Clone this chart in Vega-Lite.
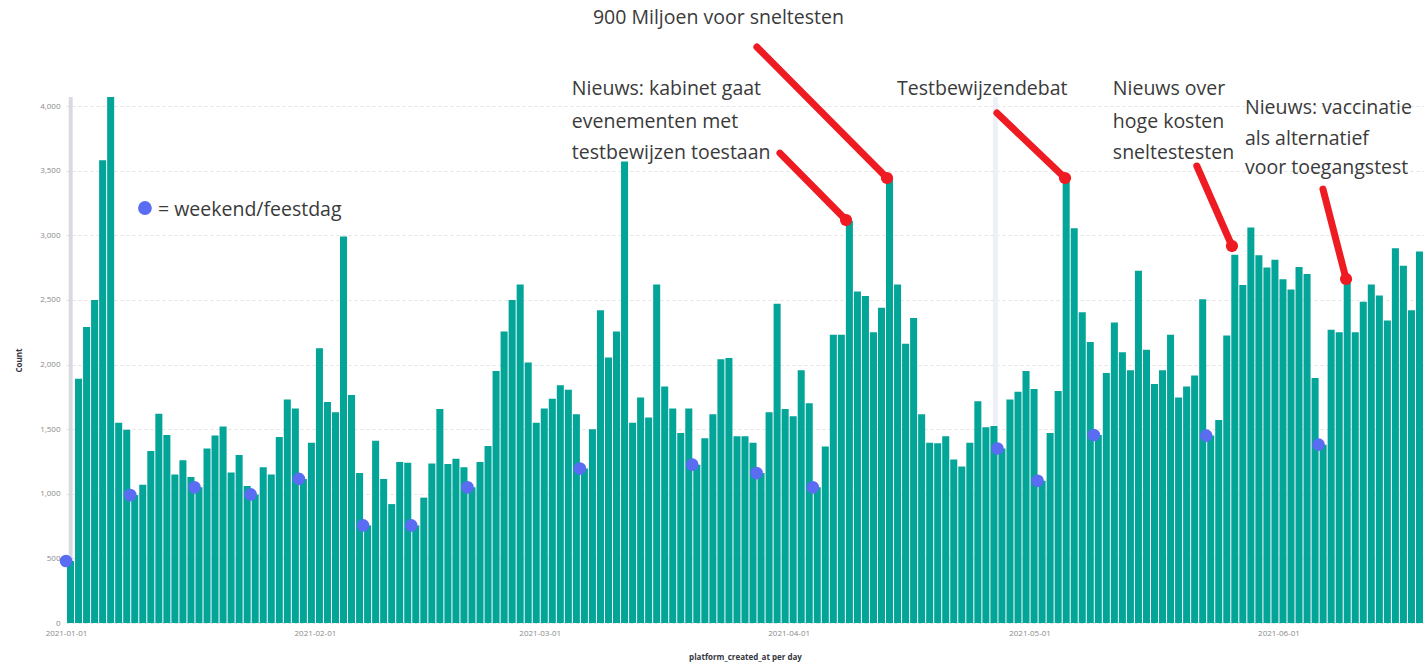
{
  "$schema": "https://vega.github.io/schema/vega-lite/v6.json",
  "width": 1358,
  "height": 526,
  "autosize": {"type": "none"},
  "padding": {"left": 66, "top": 97, "right": 0, "bottom": 44},
  "background": "white",
  "config": {
    "font": "Open Sans",
    "view": {"stroke": null},
    "axisX": {"labelFontSize": 8, "labelColor": "#8a8a8a", "domain": false, "ticks": false, "grid": false, "labelPadding": 6, "labelFlush": false, "titleFontSize": 8, "titleFontWeight": "bold", "titleColor": "#343741", "titlePadding": 16},
    "axisY": {"labelFontSize": 8, "labelColor": "#8a8a8a", "domain": false, "ticks": false, "labelPadding": 6, "gridColor": "#e3e3e3", "gridDash": [3, 3], "titleFontSize": 8, "titleFontWeight": "bold", "titleColor": "#343741", "titlePadding": 16}
  },
  "datasets": {
    "daily": [
      {"date": "2021-01-01", "count": 480, "weekend": true},
      {"date": "2021-01-02", "count": 1890},
      {"date": "2021-01-03", "count": 2290},
      {"date": "2021-01-04", "count": 2500},
      {"date": "2021-01-05", "count": 3580},
      {"date": "2021-01-06", "count": 4090},
      {"date": "2021-01-07", "count": 1550},
      {"date": "2021-01-08", "count": 1495},
      {"date": "2021-01-09", "count": 990, "weekend": true},
      {"date": "2021-01-10", "count": 1070},
      {"date": "2021-01-11", "count": 1330},
      {"date": "2021-01-12", "count": 1620},
      {"date": "2021-01-13", "count": 1455},
      {"date": "2021-01-14", "count": 1150},
      {"date": "2021-01-15", "count": 1260},
      {"date": "2021-01-16", "count": 1130},
      {"date": "2021-01-17", "count": 1050, "weekend": true},
      {"date": "2021-01-18", "count": 1350},
      {"date": "2021-01-19", "count": 1450},
      {"date": "2021-01-20", "count": 1520},
      {"date": "2021-01-21", "count": 1165},
      {"date": "2021-01-22", "count": 1300},
      {"date": "2021-01-23", "count": 1060},
      {"date": "2021-01-24", "count": 995, "weekend": true},
      {"date": "2021-01-25", "count": 1205},
      {"date": "2021-01-26", "count": 1150},
      {"date": "2021-01-27", "count": 1440},
      {"date": "2021-01-28", "count": 1730},
      {"date": "2021-01-29", "count": 1660},
      {"date": "2021-01-30", "count": 1115, "weekend": true},
      {"date": "2021-01-31", "count": 1395},
      {"date": "2021-02-01", "count": 2125},
      {"date": "2021-02-02", "count": 1710},
      {"date": "2021-02-03", "count": 1630},
      {"date": "2021-02-04", "count": 2990},
      {"date": "2021-02-05", "count": 1765},
      {"date": "2021-02-06", "count": 1160},
      {"date": "2021-02-07", "count": 755, "weekend": true},
      {"date": "2021-02-08", "count": 1410},
      {"date": "2021-02-09", "count": 1115},
      {"date": "2021-02-10", "count": 920},
      {"date": "2021-02-11", "count": 1245},
      {"date": "2021-02-12", "count": 1240},
      {"date": "2021-02-13", "count": 755, "weekend": true},
      {"date": "2021-02-14", "count": 970},
      {"date": "2021-02-15", "count": 1235},
      {"date": "2021-02-16", "count": 1655},
      {"date": "2021-02-17", "count": 1230},
      {"date": "2021-02-18", "count": 1270},
      {"date": "2021-02-19", "count": 1205},
      {"date": "2021-02-20", "count": 1050, "weekend": true},
      {"date": "2021-02-21", "count": 1245},
      {"date": "2021-02-22", "count": 1370},
      {"date": "2021-02-23", "count": 1950},
      {"date": "2021-02-24", "count": 2255},
      {"date": "2021-02-25", "count": 2500},
      {"date": "2021-02-26", "count": 2620},
      {"date": "2021-02-27", "count": 2015},
      {"date": "2021-02-28", "count": 1550},
      {"date": "2021-03-01", "count": 1660},
      {"date": "2021-03-02", "count": 1735},
      {"date": "2021-03-03", "count": 1840},
      {"date": "2021-03-04", "count": 1805},
      {"date": "2021-03-05", "count": 1615},
      {"date": "2021-03-06", "count": 1195, "weekend": true},
      {"date": "2021-03-07", "count": 1500},
      {"date": "2021-03-08", "count": 2420},
      {"date": "2021-03-09", "count": 2055},
      {"date": "2021-03-10", "count": 2255},
      {"date": "2021-03-11", "count": 3570},
      {"date": "2021-03-12", "count": 1550},
      {"date": "2021-03-13", "count": 1745},
      {"date": "2021-03-14", "count": 1590},
      {"date": "2021-03-15", "count": 2620},
      {"date": "2021-03-16", "count": 1830},
      {"date": "2021-03-17", "count": 1660},
      {"date": "2021-03-18", "count": 1470},
      {"date": "2021-03-19", "count": 1660},
      {"date": "2021-03-20", "count": 1225, "weekend": true},
      {"date": "2021-03-21", "count": 1430},
      {"date": "2021-03-22", "count": 1615},
      {"date": "2021-03-23", "count": 2040},
      {"date": "2021-03-24", "count": 2050},
      {"date": "2021-03-25", "count": 1445},
      {"date": "2021-03-26", "count": 1445},
      {"date": "2021-03-27", "count": 1395},
      {"date": "2021-03-28", "count": 1160, "weekend": true},
      {"date": "2021-03-29", "count": 1630},
      {"date": "2021-03-30", "count": 2470},
      {"date": "2021-03-31", "count": 1655},
      {"date": "2021-04-01", "count": 1600},
      {"date": "2021-04-02", "count": 1955},
      {"date": "2021-04-03", "count": 1700},
      {"date": "2021-04-04", "count": 1050, "weekend": true},
      {"date": "2021-04-05", "count": 1365},
      {"date": "2021-04-06", "count": 2230},
      {"date": "2021-04-07", "count": 2230},
      {"date": "2021-04-08", "count": 3110},
      {"date": "2021-04-09", "count": 2565},
      {"date": "2021-04-10", "count": 2530},
      {"date": "2021-04-11", "count": 2250},
      {"date": "2021-04-12", "count": 2440},
      {"date": "2021-04-13", "count": 3440},
      {"date": "2021-04-14", "count": 2620},
      {"date": "2021-04-15", "count": 2160},
      {"date": "2021-04-16", "count": 2360},
      {"date": "2021-04-17", "count": 1615},
      {"date": "2021-04-18", "count": 1395},
      {"date": "2021-04-19", "count": 1390},
      {"date": "2021-04-20", "count": 1445},
      {"date": "2021-04-21", "count": 1265},
      {"date": "2021-04-22", "count": 1210},
      {"date": "2021-04-23", "count": 1395},
      {"date": "2021-04-24", "count": 1715},
      {"date": "2021-04-25", "count": 1515},
      {"date": "2021-04-26", "count": 1525},
      {"date": "2021-04-27", "count": 1350, "weekend": true},
      {"date": "2021-04-28", "count": 1730},
      {"date": "2021-04-29", "count": 1790},
      {"date": "2021-04-30", "count": 1950},
      {"date": "2021-05-01", "count": 1810},
      {"date": "2021-05-02", "count": 1100, "weekend": true},
      {"date": "2021-05-03", "count": 1470},
      {"date": "2021-05-04", "count": 1795},
      {"date": "2021-05-05", "count": 3435},
      {"date": "2021-05-06", "count": 3055},
      {"date": "2021-05-07", "count": 2405},
      {"date": "2021-05-08", "count": 2175},
      {"date": "2021-05-09", "count": 1455, "weekend": true},
      {"date": "2021-05-10", "count": 1935},
      {"date": "2021-05-11", "count": 2325},
      {"date": "2021-05-12", "count": 2095},
      {"date": "2021-05-13", "count": 1955},
      {"date": "2021-05-14", "count": 2725},
      {"date": "2021-05-15", "count": 2115},
      {"date": "2021-05-16", "count": 1850},
      {"date": "2021-05-17", "count": 1955},
      {"date": "2021-05-18", "count": 2230},
      {"date": "2021-05-19", "count": 1745},
      {"date": "2021-05-20", "count": 1830},
      {"date": "2021-05-21", "count": 1915},
      {"date": "2021-05-22", "count": 2505},
      {"date": "2021-05-23", "count": 1450, "weekend": true},
      {"date": "2021-05-24", "count": 1570},
      {"date": "2021-05-25", "count": 2225},
      {"date": "2021-05-26", "count": 2850},
      {"date": "2021-05-27", "count": 2615},
      {"date": "2021-05-28", "count": 3060},
      {"date": "2021-05-29", "count": 2845},
      {"date": "2021-05-30", "count": 2750},
      {"date": "2021-05-31", "count": 2810},
      {"date": "2021-06-01", "count": 2660},
      {"date": "2021-06-02", "count": 2580},
      {"date": "2021-06-03", "count": 2755},
      {"date": "2021-06-04", "count": 2700},
      {"date": "2021-06-05", "count": 1895},
      {"date": "2021-06-06", "count": 1380, "weekend": true},
      {"date": "2021-06-07", "count": 2270},
      {"date": "2021-06-08", "count": 2250},
      {"date": "2021-06-09", "count": 2650},
      {"date": "2021-06-10", "count": 2250},
      {"date": "2021-06-11", "count": 2485},
      {"date": "2021-06-12", "count": 2620},
      {"date": "2021-06-13", "count": 2535},
      {"date": "2021-06-14", "count": 2340},
      {"date": "2021-06-15", "count": 2900},
      {"date": "2021-06-16", "count": 2765},
      {"date": "2021-06-17", "count": 2420},
      {"date": "2021-06-18", "count": 2875},
      {"date": "2021-06-19", "count": 2535}
    ],
    "labels": [
      {"date": "2021-03-07T15:00:00Z", "value": 4681, "text": "900 Miljoen voor sneltesten"},
      {"date": "2021-03-05T00:00:00Z", "value": 4132, "text": "Nieuws: kabinet gaat"},
      {"date": "2021-03-05T00:00:00Z", "value": 3876, "text": "evenementen met"},
      {"date": "2021-03-05T00:00:00Z", "value": 3636, "text": "testbewijzen toestaan"},
      {"date": "2021-04-14T12:00:00Z", "value": 4132, "text": "Testbewijzendebat"},
      {"date": "2021-05-11T09:00:00Z", "value": 4132, "text": "Nieuws over"},
      {"date": "2021-05-11T09:00:00Z", "value": 3876, "text": "hoge kosten"},
      {"date": "2021-05-11T09:00:00Z", "value": 3636, "text": "sneltestesten"},
      {"date": "2021-05-27T20:00:00Z", "value": 3985, "text": "Nieuws: vaccinatie"},
      {"date": "2021-05-27T20:00:00Z", "value": 3745, "text": "als alternatief"},
      {"date": "2021-05-27T20:00:00Z", "value": 3520, "text": "voor toegangstest"},
      {"date": "2021-01-12T11:00:00Z", "value": 3195, "text": "= weekend/feestdag"}
    ],
    "legendDot": [
      {"date": "2021-01-10T20:00:00Z", "value": 3211}
    ],
    "arrows": [
      {"date": "2021-03-30T22:00:00Z", "value": 3636, "date2": "2021-04-08T03:30:00Z", "value2": 3118},
      {"date": "2021-03-28T01:00:00Z", "value": 4457, "date2": "2021-04-13T06:00:00Z", "value2": 3443},
      {"date": "2021-04-26T22:30:00Z", "value": 3946, "date2": "2021-05-05T10:00:00Z", "value2": 3443},
      {"date": "2021-05-21T20:00:00Z", "value": 3536, "date2": "2021-05-26T05:00:00Z", "value2": 2917},
      {"date": "2021-06-06T13:00:00Z", "value": 3358, "date2": "2021-06-09T10:00:00Z", "value2": 2662}
    ],
    "bandA": [{"date": "2021-01-01T14:00:00Z"}],
    "bandB": [{"date": "2021-04-26T18:00:00Z"}]
  },
  "layer": [
    {
      "data": {"name": "bandA"},
      "mark": {"type": "rule", "color": "#d9dae0", "strokeWidth": 4},
      "encoding": {
        "x": {"field": "date", "type": "temporal", "title": "platform_created_at per day", "scale": {"type": "utc", "domain": [1609459200000, 1624071600000]}}
      }
    },
    {
      "data": {"name": "bandB"},
      "mark": {"type": "rule", "color": "#eef0f8", "strokeWidth": 5},
      "encoding": {
        "x": {"field": "date", "type": "temporal", "title": "platform_created_at per day", "scale": {"type": "utc", "domain": [1609459200000, 1624071600000]}}
      }
    },
    {
      "data": {"name": "daily"},
      "mark": {"type": "bar", "color": "#02a597", "clip": true, "binSpacing": 1},
      "encoding": {
        "x": {"field": "date", "timeUnit": "utcyearmonthdate", "type": "temporal", "title": "platform_created_at per day",
              "scale": {"type": "utc", "domain": [1609459200000, 1624071600000]},
              "axis": {"format": "%Y-%m-%d", "tickCount": {"interval": "month", "step": 1}}},
        "y": {"field": "count", "type": "quantitative", "title": "Count",
              "scale": {"domain": [0, 4070], "nice": false},
              "axis": {"values": [0, 500, 1000, 1500, 2000, 2500, 3000, 3500, 4000], "format": ",d"}}
      }
    },
    {
      "data": {"name": "daily"},
      "transform": [{"filter": "datum.weekend"}],
      "mark": {"type": "point", "filled": true, "opacity": 1, "color": "#5a6cf2", "size": 160},
      "encoding": {
        "x": {"field": "date", "type": "temporal", "title": "platform_created_at per day", "scale": {"type": "utc", "domain": [1609459200000, 1624071600000]}},
        "y": {"field": "count", "type": "quantitative", "title": "Count"}
      }
    },
    {
      "data": {"name": "legendDot"},
      "mark": {"type": "point", "filled": true, "opacity": 1, "color": "#5a6cf2", "size": 190},
      "encoding": {
        "x": {"field": "date", "type": "temporal", "title": "platform_created_at per day"},
        "y": {"field": "value", "type": "quantitative", "title": "Count"}
      }
    },
    {
      "data": {"name": "labels"},
      "mark": {"type": "text", "align": "left", "baseline": "middle", "fontSize": 19.5, "color": "#3a3a3a", "font": "Open Sans"},
      "encoding": {
        "x": {"field": "date", "type": "temporal", "title": "platform_created_at per day"},
        "y": {"field": "value", "type": "quantitative", "title": "Count"},
        "text": {"field": "text"}
      }
    },
    {
      "data": {"name": "arrows"},
      "mark": {"type": "rule", "color": "#ee1c22", "strokeWidth": 7, "strokeCap": "round"},
      "encoding": {
        "x": {"field": "date", "type": "temporal", "title": "platform_created_at per day"},
        "y": {"field": "value", "type": "quantitative", "title": "Count"},
        "x2": {"field": "date2"},
        "y2": {"field": "value2"}
      }
    },
    {
      "data": {"name": "arrows"},
      "mark": {"type": "point", "filled": true, "opacity": 1, "color": "#ee1c22", "size": 150},
      "encoding": {
        "x": {"field": "date2", "type": "temporal", "title": "platform_created_at per day"},
        "y": {"field": "value2", "type": "quantitative", "title": "Count"}
      }
    }
  ]
}
